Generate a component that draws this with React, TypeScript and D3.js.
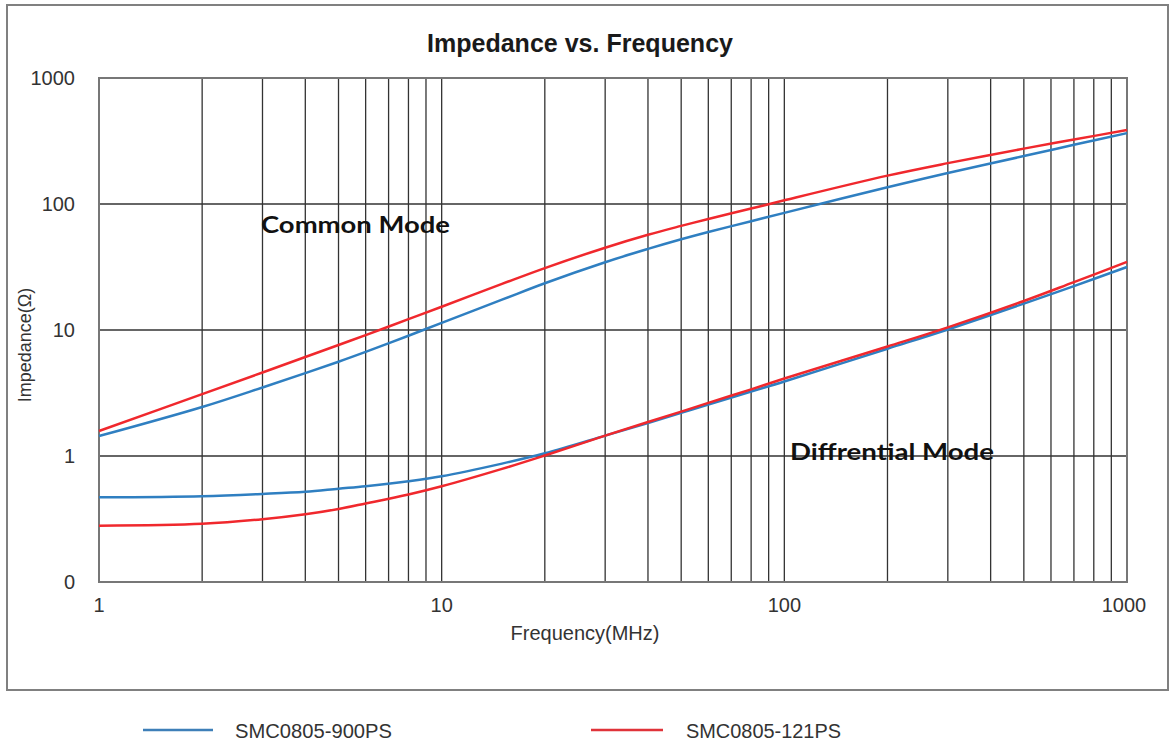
import React from "react";
import * as d3 from "d3";

const freqs = [1, 2, 3, 4, 5, 6, 8, 10, 15, 20, 30, 40, 50, 60, 80, 100, 200, 300, 500, 700, 1000];

const cm900 = [1.44, 2.45, 3.5, 4.55, 5.6, 6.7, 9.0, 11.4, 17.4, 23.5, 34.5, 44, 52.5, 60, 73, 85, 136, 176, 240, 295, 365];
const cm121 = [1.58, 3.1, 4.6, 6.1, 7.6, 9.1, 12.2, 15.3, 23.2, 31, 45, 57, 67, 76, 92, 107, 168, 211, 275, 325, 386];
const dm900 = [0.47, 0.48, 0.5, 0.52, 0.55, 0.575, 0.63, 0.69, 0.87, 1.05, 1.45, 1.83, 2.2, 2.56, 3.25, 3.9, 7.1, 10.1, 16.2, 22.3, 31.6];
const dm121 = [0.28, 0.29, 0.315, 0.345, 0.38, 0.42, 0.495, 0.575, 0.79, 1.01, 1.45, 1.86, 2.25, 2.64, 3.38, 4.12, 7.4, 10.5, 17.0, 24, 34.7];

const yTicks = [1000, 100, 10, 1, 0.1];
const yTickLabels = ["1000", "100", "10", "1", "0"];
const xTicks = [1, 10, 100, 1000];
const xTickLabels = ["1", "10", "100", "1000"];

const seriesNames = ["SMC0805-900PS", "SMC0805-121PS"];
const BLUE = "#2f7fc1";
const RED = "#f0282d";

export default function App() {
  const W = 1171, H = 745;
  const left = 99, right = 1127, top = 78, bottom = 582;
  const x = d3.scaleLog().domain([1, 1000]).range([left, right]);
  const y = d3.scaleLog().domain([0.1, 1000]).range([bottom, top]);

  const line = d3
    .line<number>()
    .x((_, i) => x(freqs[i]))
    .y((d) => y(d))
    .curve(d3.curveCatmullRom.alpha(0.5));

  const vGrid: number[] = [];
  for (let k = 0; k < 3; k++) {
    for (let m = 1; m <= 9; m++) vGrid.push(m * Math.pow(10, k));
  }
  vGrid.push(1000);

  const font = "'Liberation Sans', Arial, sans-serif";
  const annFont = "Lato, 'Open Sans', sans-serif";

  return (
    <svg width={W} height={H} style={{ position: "absolute", left: 0, top: 0, background: "#fff" }}>
      <rect x={7} y={5} width={1161} height={685} fill="#fff" stroke="#808080" strokeWidth={2} />
      <text x={580} y={52} textAnchor="middle" fontFamily={font} fontWeight="bold" fontSize={25} fill="#1a1a1a" textLength={306} lengthAdjust="spacingAndGlyphs">
        Impedance vs. Frequency
      </text>

      {vGrid.map((f, i) => (
        <line key={"v" + i} x1={x(f)} x2={x(f)} y1={top} y2={bottom} stroke="#333" strokeWidth={1.3} />
      ))}
      {yTicks.map((t, i) => (
        <line key={"h" + i} x1={left} x2={right} y1={y(t)} y2={y(t)} stroke="#333" strokeWidth={1.3} />
      ))}
      <rect x={left} y={top} width={right - left} height={bottom - top} fill="none" stroke="#777" strokeWidth={2} />

      {yTicks.map((t, i) => (
        <text key={"yt" + i} x={75} y={y(t) + 7} textAnchor="end" fontFamily={font} fontSize={20} fill="#333">
          {yTickLabels[i]}
        </text>
      ))}
      {xTicks.map((t, i) => (
        <text key={"xt" + i} x={x(t) - (i === 3 ? 3 : 0)} y={612} textAnchor="middle" fontFamily={font} fontSize={20} fill="#333">
          {xTickLabels[i]}
        </text>
      ))}
      <text x={585} y={640} textAnchor="middle" fontFamily={font} fontSize={20} fill="#333">
        Frequency(MHz)
      </text>
      <text
        transform={`translate(31,345) rotate(-90)`}
        textAnchor="middle"
        fontFamily={font}
        fontSize={18}
        fill="#333"
      >
        Impedance(Ω)
      </text>

      <path d={line(cm900) || ""} fill="none" stroke={BLUE} strokeWidth={2.5} />
      <path d={line(dm900) || ""} fill="none" stroke={BLUE} strokeWidth={2.5} />
      <path d={line(cm121) || ""} fill="none" stroke={RED} strokeWidth={2.5} />
      <path d={line(dm121) || ""} fill="none" stroke={RED} strokeWidth={2.5} />

      <text x={261} y={233} fontFamily={annFont} fontWeight="bold" fontSize={22} fill="#111" textLength={189} lengthAdjust="spacingAndGlyphs">
        Common Mode
      </text>
      <text x={790} y={460} fontFamily={annFont} fontWeight="bold" fontSize={22} fill="#111" textLength={204} lengthAdjust="spacingAndGlyphs">
        Diffrential Mode
      </text>

      <line x1={143} x2={213} y1={730} y2={730} stroke="#3e7fb8" strokeWidth={2.5} />
      <text x={235} y={738} fontFamily={font} fontSize={20} fill="#333" textLength={157} lengthAdjust="spacingAndGlyphs">
        {seriesNames[0]}
      </text>
      <line x1={591} x2={663} y1={730} y2={730} stroke="#e0333a" strokeWidth={2.5} />
      <text x={686} y={738} fontFamily={font} fontSize={20} fill="#333" textLength={155} lengthAdjust="spacingAndGlyphs">
        {seriesNames[1]}
      </text>
    </svg>
  );
}
